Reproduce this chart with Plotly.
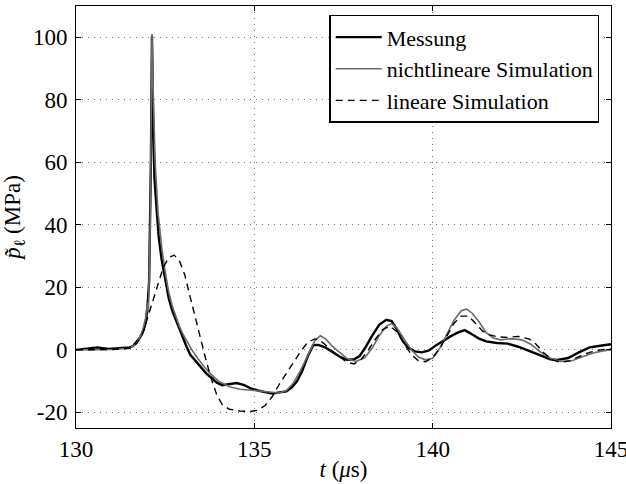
import plotly.graph_objects as go

# Messung
t_mess = [130.0, 130.3, 130.6, 130.9, 131.2, 131.5, 131.6, 131.7, 131.8, 131.9, 131.95, 132.0, 132.05,
          132.1, 132.13, 132.16, 132.2, 132.26, 132.32, 132.4, 132.5, 132.6, 132.7, 132.8, 132.9, 133.0,
          133.1, 133.2, 133.35, 133.5, 133.65, 133.8, 133.95, 134.1, 134.3, 134.5, 134.7, 134.9, 135.1,
          135.3, 135.5, 135.7, 135.9, 136.05, 136.2, 136.35, 136.5, 136.65, 136.8, 137.0, 137.2, 137.4,
          137.6, 137.8, 137.95, 138.1, 138.3, 138.5, 138.7, 138.85, 139.0, 139.15, 139.3, 139.5, 139.7,
          139.9, 140.1, 140.3, 140.5, 140.7, 140.9, 141.1, 141.3, 141.5, 141.8, 142.1, 142.4, 142.7,
          143.0, 143.3, 143.5, 143.8, 144.1, 144.4, 144.7, 145.0]
p_mess = [0.0, 0.4, 0.8, 0.3, 0.6, 0.8, 1.2, 2.5, 4.0, 6.5, 8.5, 13, 22,
          60, 100.5, 75, 55, 45, 36, 29, 22, 16.5, 12.5, 9.5, 6.5, 3.5,
          1.0, -1.5, -3.5, -5.5, -7.5, -9.0, -10.5, -11.3, -11.0, -10.6, -11.2, -12.3, -13.0,
          -13.6, -14.0, -13.6, -13.3, -12.0, -10.0, -6.5, -2.0, 1.5, 1.6, 0.7, -0.8, -2.2,
          -3.2, -3.0, -2.0, 0.5, 4.5, 8.0, 9.6, 9.2, 6.5, 3.0, 0.8, -0.5, -0.8,
          -0.2, 1.5, 3.0, 4.3, 5.5, 6.3, 5.0, 3.6, 2.7, 2.2, 2.0, 1.0, -0.3,
          -1.6, -3.0, -3.2, -2.6, -0.8, 0.8, 1.3, 1.8]

# nichtlineare Simulation
t_nl = [130.0, 131.0, 131.5, 131.7, 131.85, 131.95, 132.0, 132.03, 132.08, 132.13, 132.17, 132.22,
        132.3, 132.4, 132.5, 132.6, 132.7, 132.8, 132.9, 133.0, 133.1, 133.25, 133.4, 133.6, 133.8,
        134.0, 134.3, 134.6, 135.0, 135.4, 135.7, 135.9, 136.1, 136.3, 136.5, 136.7, 136.85, 137.0,
        137.2, 137.4, 137.6, 137.85, 138.1, 138.3, 138.5, 138.7, 138.85, 139.0, 139.2, 139.4, 139.6,
        139.8, 140.0, 140.2, 140.4, 140.6, 140.8, 140.95, 141.1, 141.3, 141.5, 141.7, 141.9, 142.2,
        142.5, 142.75, 143.0, 143.3, 143.6, 143.9, 144.2, 144.5, 144.8, 145.0]
p_nl = [0.0, 0.1, 0.5, 2.0, 5.5, 10, 15, 12, 40, 101, 80, 60,
        44, 33, 25, 18.5, 14, 10.5, 7.5, 5.0, 2.8, 0.0, -2.5, -5.5, -8.0,
        -10.0, -11.8, -12.6, -13.0, -13.4, -13.8, -13.0, -10.5, -6.5, -1.5, 3.0, 4.5, 3.5,
        1.0, -1.0, -2.8, -3.7, -2.5, 0.5, 4.5, 7.6, 8.4, 7.0, 3.5, 0.0, -2.3,
        -3.2, -2.7, 0.5, 5.0, 9.5, 12.5, 13.0, 11.8, 9.0, 5.5, 3.8, 3.2, 3.6,
        3.2, 1.8, -0.5, -2.7, -3.7, -3.5, -2.2, -1.0, -0.3, 0.0]

# lineare Simulation
t_lin = [130.0, 131.0, 131.5, 131.7, 131.85, 132.0, 132.15, 132.3, 132.45, 132.6, 132.75, 132.9,
         133.05, 133.2, 133.35, 133.5, 133.65, 133.8, 133.95, 134.1, 134.3, 134.6, 134.9, 135.1,
         135.3, 135.5, 135.7, 135.9, 136.1, 136.3, 136.5, 136.7, 136.85, 137.0, 137.3, 137.6, 137.8,
         138.0, 138.2, 138.4, 138.6, 138.8, 139.0, 139.2, 139.4, 139.6, 139.8, 140.0, 140.2, 140.4,
         140.6, 140.8, 141.0, 141.2, 141.4, 141.6, 141.8, 142.1, 142.4, 142.7, 142.9, 143.1, 143.35,
         143.6, 143.85, 144.1, 144.4, 144.7, 145.0]
p_lin = [0.0, 0.1, 0.5, 2.0, 4.5, 10, 15.5, 21, 26.5, 29.5, 30.3, 28.5,
         24, 17, 10, 3.5, -3.5, -9.5, -14.5, -17.5, -19.0, -19.6, -19.7, -19.3,
         -17.8, -15.0, -11.0, -7.5, -4.0, -0.5, 2.5, 3.5, 3.0, 1.5, -1.5, -4.0, -4.5,
         -3.0, 0.0, 3.5, 6.5, 7.6, 5.8, 2.0, -1.5, -3.5, -3.8, -2.5, 0.5, 4.5,
         8.5, 10.8, 10.8, 8.5, 6.0, 4.8, 4.2, 4.0, 4.3, 3.5, 1.8, -0.8, -3.2,
         -4.0, -3.5, -2.2, -0.8, 0.0, 0.3]

x_ticks = [130, 135, 140, 145]
y_ticks = [-20, 0, 20, 40, 60, 80, 100]
y_ticklabels = ["-20", "0", "20", "40", "60", "80", "100"]

fnt = "Liberation Serif"

fig = go.Figure()
fig.add_trace(go.Scatter(x=t_mess, y=p_mess, mode="lines", name="Messung",
                         line=dict(color="black", width=2.4)))
fig.add_trace(go.Scatter(x=t_nl, y=p_nl, mode="lines", name="nichtlineare Simulation",
                         line=dict(color="#6a6a6a", width=1.6)))
fig.add_trace(go.Scatter(x=t_lin, y=p_lin, mode="lines", name="lineare Simulation",
                         line=dict(color="black", width=1.4, dash="7px,5px")))

axis_common = dict(showline=True, linecolor="black", linewidth=1, mirror="ticks",
                   ticks="inside", ticklen=5, tickcolor="black", automargin=False,
                   showgrid=True, gridcolor="#777777", griddash="1px,5px", gridwidth=1,
                   zeroline=False, ticklabeloverflow="allow",
                   tickfont=dict(family=fnt, size=23, color="black"))

fig.update_xaxes(range=[130, 145], tickvals=x_ticks,
                 title=dict(text="<i>t</i> (<i>μ</i>s)", font=dict(family=fnt, size=23, color="black"),
                            standoff=0),
                 **axis_common)
fig.update_yaxes(range=[-25, 110], tickvals=y_ticks, ticktext=y_ticklabels,
                 title=dict(text="<i>p̃</i><sub>ℓ</sub> (MPa)", font=dict(family=fnt, size=23, color="black"),
                            standoff=6),
                 ticklabelstandoff=3,
                 **axis_common)

fig.update_layout(
    width=626, height=484,
    margin=dict(l=76, r=15, t=6, b=56),
    paper_bgcolor="white", plot_bgcolor="white",
    font=dict(family=fnt, size=23, color="black"),
    showlegend=True,
    legend=dict(x=0.978, y=0.979, xanchor="right", yanchor="top",
                bgcolor="white", bordercolor="black", borderwidth=1.5,
                font=dict(family=fnt, size=22, color="black"),
                tracegroupgap=0, itemwidth=46),
)

fig.write_html("out.html", config={"displayModeBar": False},
               post_script="document.body.style.margin='0';")
